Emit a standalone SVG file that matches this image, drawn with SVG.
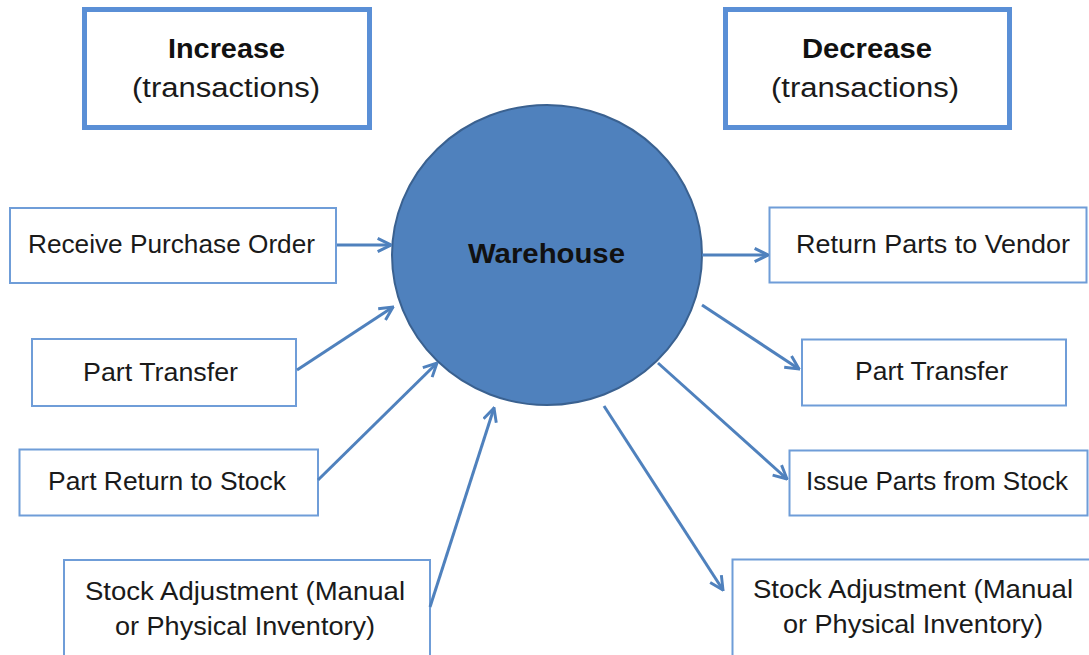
<svg xmlns="http://www.w3.org/2000/svg" width="1089" height="655" viewBox="0 0 1089 655">
<style>
  .hdr { fill: #ffffff; stroke: #5A8FD6; stroke-width: 5; }
  .box { fill: #ffffff; stroke: #6F9DD8; stroke-width: 2; }
  .t { font-family: "Liberation Sans", Arial, sans-serif; font-size: 25px; fill: #1a1a1a; text-anchor: middle; }
  .tb { font-family: "Liberation Sans", Arial, sans-serif; font-size: 28px; font-weight: bold; fill: #111111; text-anchor: middle; }
  .tp { font-family: "Liberation Sans", Arial, sans-serif; font-size: 27px; fill: #1a1a1a; text-anchor: middle; }
  .arr { fill: none; stroke: #4F81BD; stroke-width: 3; marker-end: url(#ah); }
</style>
<defs>
  <marker id="ah" viewBox="0 0 12 12" refX="11" refY="6" markerWidth="16" markerHeight="16" markerUnits="userSpaceOnUse" orient="auto">
    <path d="M1,1 L11,6 L1,11" fill="none" stroke="#4F81BD" stroke-width="2.2" stroke-linejoin="miter"/>
  </marker>
</defs>
<rect width="1089" height="655" fill="#ffffff"/>

<g id="increase">
  <rect class="hdr" x="84.5" y="9.5" width="285" height="118"/>
  <text class="tb" x="226.5" y="58" textLength="117" lengthAdjust="spacingAndGlyphs">Increase</text>
  <text class="tp" x="226" y="97" textLength="188" lengthAdjust="spacingAndGlyphs">(transactions)</text>
</g>
<g id="decrease">
  <rect class="hdr" x="725.5" y="9.5" width="284" height="118"/>
  <text class="tb" x="867" y="58" textLength="130" lengthAdjust="spacingAndGlyphs">Decrease</text>
  <text class="tp" x="865" y="97" textLength="188" lengthAdjust="spacingAndGlyphs">(transactions)</text>
</g>

<g id="warehouse">
  <ellipse cx="547" cy="255" rx="155" ry="150" fill="#4F81BD" stroke="#3A6190" stroke-width="2"/>
  <text class="tb" x="546.5" y="263" textLength="157" lengthAdjust="spacingAndGlyphs">Warehouse</text>
</g>

<g id="in-receive-po">
  <rect class="box" x="10" y="208" width="326" height="75"/>
  <text class="t" x="171.5" y="253" textLength="287" lengthAdjust="spacingAndGlyphs">Receive Purchase Order</text>
</g>
<g id="in-part-transfer">
  <rect class="box" x="32" y="339" width="264" height="67"/>
  <text class="t" x="160.5" y="381" textLength="155" lengthAdjust="spacingAndGlyphs">Part Transfer</text>
</g>
<g id="in-part-return">
  <rect class="box" x="19.5" y="449.5" width="298.5" height="66"/>
  <text class="t" x="167" y="490" textLength="238" lengthAdjust="spacingAndGlyphs">Part Return to Stock</text>
</g>
<g id="in-stock-adjustment">
  <rect class="box" x="64" y="560" width="366" height="110"/>
  <text class="t" x="245" y="600" textLength="320" lengthAdjust="spacingAndGlyphs">Stock Adjustment (Manual</text>
  <text class="t" x="245" y="635" textLength="260" lengthAdjust="spacingAndGlyphs">or Physical Inventory)</text>
</g>

<g id="out-return-vendor">
  <rect class="box" x="769.5" y="207.5" width="317" height="75"/>
  <text class="t" x="933" y="253" textLength="274" lengthAdjust="spacingAndGlyphs">Return Parts to Vendor</text>
</g>
<g id="out-part-transfer">
  <rect class="box" x="802" y="339.5" width="264" height="66"/>
  <text class="t" x="931.5" y="380" textLength="153" lengthAdjust="spacingAndGlyphs">Part Transfer</text>
</g>
<g id="out-issue-parts">
  <rect class="box" x="789.5" y="450.5" width="298" height="65"/>
  <text class="t" x="937" y="490" textLength="262" lengthAdjust="spacingAndGlyphs">Issue Parts from Stock</text>
</g>
<g id="out-stock-adjustment">
  <rect class="box" x="732.5" y="559.5" width="380" height="110"/>
  <text class="t" x="913" y="598" textLength="320" lengthAdjust="spacingAndGlyphs">Stock Adjustment (Manual</text>
  <text class="t" x="913" y="633" textLength="260" lengthAdjust="spacingAndGlyphs">or Physical Inventory)</text>
</g>

<g id="connectors">
  <line class="arr" x1="337" y1="245" x2="391" y2="245"/>
  <line class="arr" x1="297" y1="370" x2="393" y2="307"/>
  <line class="arr" x1="318" y1="480" x2="437" y2="363"/>
  <line class="arr" x1="430" y1="607" x2="494" y2="408"/>
  <line class="arr" x1="702" y1="255" x2="768" y2="255"/>
  <line class="arr" x1="702" y1="305" x2="799" y2="369"/>
  <line class="arr" x1="658" y1="363" x2="787" y2="479"/>
  <line class="arr" x1="604" y1="406" x2="723" y2="590"/>
</g>
</svg>
